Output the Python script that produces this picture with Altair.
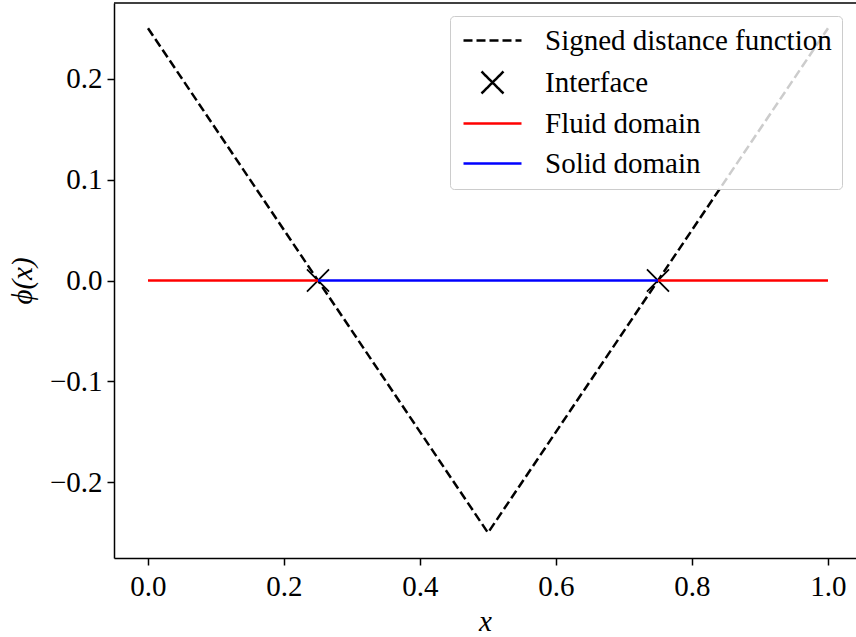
import altair as alt
import pandas as pd

# ---- data ----
series_names = ["Signed distance function", "Interface", "Fluid domain", "Solid domain"]

sdf_x = [0.0, 0.5, 1.0]
sdf_y = [0.25, -0.25, 0.25]

interface_x = [0.25, 0.75]
interface_y = [0.0, 0.0]

fluid_left_x = [0.0, 0.25]
fluid_right_x = [0.75, 1.0]
fluid_y = [0.0, 0.0]

solid_x = [0.25, 0.75]
solid_y = [0.0, 0.0]

x_ticks = [0.0, 0.2, 0.4, 0.6, 0.8, 1.0]
y_ticks = [-0.2, -0.1, 0.0, 0.1, 0.2]

# ---- tables ----
rows = []
for i, (xv, yv) in enumerate(zip(sdf_x, sdf_y)):
    rows.append(dict(series=series_names[0], seg="sdf", x=xv, y=yv, o=i))
for i, (xv, yv) in enumerate(zip(fluid_left_x, fluid_y)):
    rows.append(dict(series=series_names[2], seg="fluidL", x=xv, y=yv, o=i))
for i, (xv, yv) in enumerate(zip(fluid_right_x, fluid_y)):
    rows.append(dict(series=series_names[2], seg="fluidR", x=xv, y=yv, o=i))
for i, (xv, yv) in enumerate(zip(solid_x, solid_y)):
    rows.append(dict(series=series_names[3], seg="solid", x=xv, y=yv, o=i))
lines_df = pd.DataFrame(rows)

pts_df = pd.DataFrame(dict(series=[series_names[1]] * len(interface_x), x=interface_x, y=interface_y))

FONT = "Liberation Serif"
FS = 29
W, H = 742, 555
X_DOM = [-0.05, 1.0412]
Y_DOM = [-0.275, 0.275]

# marker on the plot (unit path, scaled by mark size)
plot_xpath = "M-0.38,-0.38L0.38,0.38M0.38,-0.38L-0.38,0.38"
# legend symbols (unit paths, scaled by legend symbol size)
leg_line = "M-5.8,0H5.8"
leg_x = "M-2.2,-2.2L2.2,2.2M2.2,-2.2L-2.2,2.2"

color_scale = alt.Scale(domain=series_names, range=["black", "black", "red", "blue"])
dash_scale = alt.Scale(domain=series_names, range=[[9, 4], [1, 0], [1, 0], [1, 0]])
shape_scale = alt.Scale(domain=series_names, range=[leg_line, leg_x, leg_line, leg_line])

legend = alt.Legend(
    title=None,
    orient="none",
    legendX=336,
    legendY=13,
    fillColor="rgba(255,255,255,0.8)",
    strokeColor="#cccccc",
    cornerRadius=4,
    padding=10,
    labelFont=FONT,
    labelFontSize=FS,
    labelColor="black",
    labelOffset=38,
    symbolOffset=18,
    symbolSize=100,
    symbolStrokeWidth=2.5,
    symbolOpacity=1,
    symbolFillColor="transparent",
    rowPadding=10,
    labelLimit=500,
)

xenc = alt.X("x:Q", scale=alt.Scale(domain=X_DOM, nice=False, zero=False),
             axis=alt.Axis(values=x_ticks, format=".1f", title="x",
                           titleFontStyle="italic"))
yenc = alt.Y("y:Q", scale=alt.Scale(domain=Y_DOM, nice=False, zero=False),
             axis=alt.Axis(values=y_ticks, format=".1f", title="ϕ(x)",
                           titleFontStyle="italic"))

sort_order = alt.Order("o:Q")

sdf = alt.Chart(lines_df).transform_filter(
    alt.datum.seg == "sdf"
).mark_line(strokeWidth=2.5, clip=True, opacity=1).encode(
    x=xenc, y=yenc,
    color=alt.Color("series:N", scale=color_scale, legend=legend),
    strokeDash=alt.StrokeDash("series:N", scale=dash_scale, legend=legend),
    detail="seg:N",
    order=sort_order,
)

pts = alt.Chart(pts_df).mark_point(
    filled=False, size=3364, strokeWidth=1.8, opacity=1, shape=plot_xpath
).encode(
    x=xenc, y=yenc,
    color=alt.Color("series:N", scale=color_scale, legend=legend),
)

# legend-only layer carrying the shape scale (draws nothing)
shape_key = alt.Chart(pts_df).transform_filter("false").mark_point(filled=False, opacity=1).encode(
    x=xenc, y=yenc,
    color=alt.Color("series:N", scale=color_scale, legend=legend),
    shape=alt.Shape("series:N", scale=shape_scale, legend=legend),
)

doms = alt.Chart(lines_df).transform_filter(
    alt.datum.seg != "sdf"
).mark_line(strokeWidth=2.5, clip=True, opacity=1).encode(
    x=xenc, y=yenc,
    color=alt.Color("series:N", scale=color_scale, legend=legend),
    strokeDash=alt.StrokeDash("series:N", scale=dash_scale, legend=legend),
    detail="seg:N",
    order=sort_order,
)

top_border = alt.Chart(pd.DataFrame({"a": [0]})).mark_rule(color="black", strokeWidth=1.5).encode(
    x=alt.value(0), x2=alt.value(W), y=alt.value(0)
)

chart = alt.layer(sdf, pts, shape_key, doms, top_border).properties(
    width=W, height=H,
    autosize=alt.AutoSizeParams(type="none"),
    padding={"left": 114, "top": 3, "right": 0, "bottom": 79},
).configure_view(stroke=None).configure_axis(
    labelFont=FONT, labelFontSize=FS, labelColor="black",
    titleFont=FONT, titleFontSize=FS, titleColor="black", titleFontWeight="normal",
    domainColor="black", domainWidth=1.5,
    tickColor="black", tickWidth=1.5, tickSize=7,
    grid=False,
).configure_axisX(titlePadding=6, labelPadding=7).configure_axisY(titlePadding=12, labelPadding=5)

chart.save("out.html", embed_options={"renderer": "svg", "actions": False})
